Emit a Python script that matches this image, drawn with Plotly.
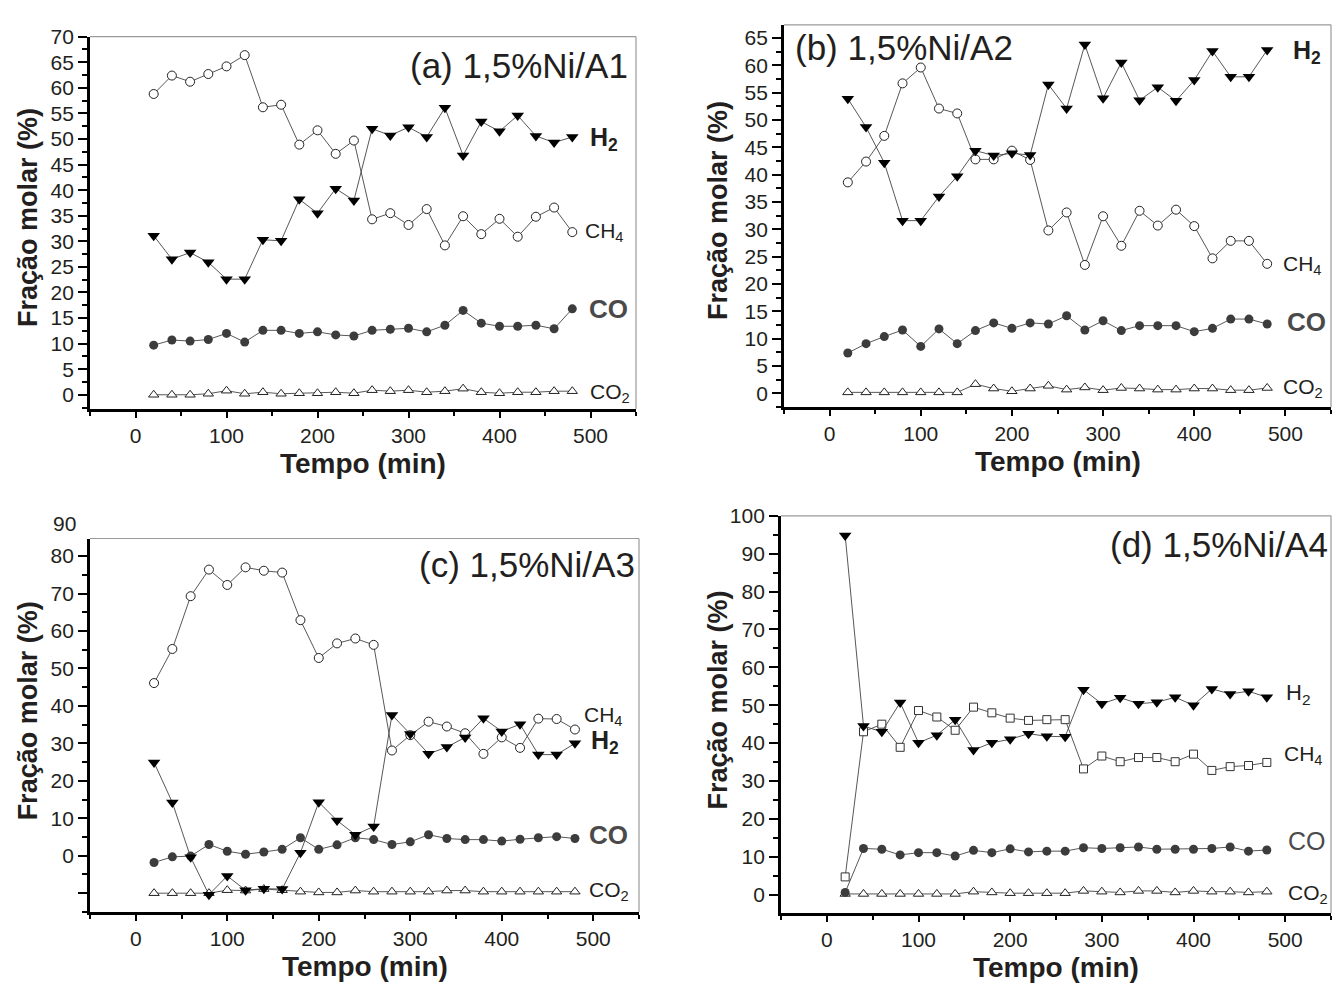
import plotly.graph_objects as go

# ---------------- data ----------------
tempo = [20, 40, 60, 80, 100, 120, 140, 160, 180, 200, 220, 240,
         260, 280, 300, 320, 340, 360, 380, 400, 420, 440, 460, 480]

# (a) 1,5%Ni/A1
a_h2 = [31.1, 26.5, 27.8, 25.9, 22.6, 22.6, 30.3, 30.1, 38.2, 35.5, 40.3, 38.0,
        52.0, 50.7, 52.3, 50.4, 56.1, 46.8, 53.4, 51.5, 54.6, 50.6, 49.3, 50.4]
a_ch4 = [58.8, 62.4, 61.2, 62.7, 64.2, 66.4, 56.2, 56.7, 48.9, 51.7, 47.1, 49.7,
         34.3, 35.5, 33.2, 36.3, 29.2, 34.9, 31.4, 34.4, 30.9, 34.8, 36.6, 31.8]
a_co = [9.7, 10.7, 10.5, 10.8, 12.0, 10.3, 12.6, 12.6, 12.0, 12.3, 11.7, 11.5,
        12.6, 12.8, 13.0, 12.3, 13.6, 16.5, 14.0, 13.4, 13.4, 13.6, 12.9, 16.8]
a_co2 = [0.0, 0.0, 0.0, 0.2, 0.8, 0.2, 0.5, 0.2, 0.3, 0.3, 0.5, 0.3,
         0.9, 0.7, 0.9, 0.5, 0.7, 1.2, 0.5, 0.3, 0.5, 0.5, 0.7, 0.7]

# (b) 1,5%Ni/A2
b_h2 = [53.9, 48.7, 42.2, 31.6, 31.6, 36.0, 39.7, 44.4, 43.5, 43.9, 43.6, 56.5,
        52.1, 63.8, 54.0, 60.5, 53.6, 56.0, 53.5, 57.3, 62.6, 57.9, 57.9, 62.8]
b_ch4 = [38.6, 42.4, 47.1, 56.7, 59.6, 52.1, 51.2, 42.8, 42.8, 44.4, 42.7, 29.8,
         33.1, 23.5, 32.4, 27.0, 33.4, 30.7, 33.6, 30.6, 24.7, 27.9, 27.9, 23.7]
b_co = [7.4, 9.1, 10.4, 11.6, 8.6, 11.8, 9.1, 11.5, 12.9, 11.9, 12.9, 12.7,
        14.2, 11.6, 13.3, 11.5, 12.4, 12.4, 12.4, 11.3, 11.9, 13.6, 13.6, 12.7]
b_co2 = [0.2, 0.2, 0.2, 0.2, 0.2, 0.2, 0.2, 1.7, 0.9, 0.4, 0.9, 1.4,
         0.7, 1.1, 0.6, 1.0, 0.9, 0.7, 0.7, 0.9, 0.9, 0.6, 0.6, 1.0]

# (c) 1,5%Ni/A3  (values as read against the printed axis labels)
c_h2 = [24.9, 14.2, -0.4, -10.4, -5.4, -9.2, -8.8, -8.9, 0.8, 14.3, 9.4, 5.6,
        7.8, 37.6, 32.5, 27.2, 29.0, 31.6, 36.7, 33.2, 35.1, 27.0, 27.0, 30.0]
c_ch4 = [46.1, 55.2, 69.3, 76.4, 72.3, 77.0, 76.1, 75.6, 62.9, 52.8, 56.7, 58.0,
         56.3, 28.1, 32.2, 35.8, 34.5, 32.7, 27.2, 31.6, 28.8, 36.6, 36.5, 33.7]
c_co = [-1.8, -0.3, -0.1, 3.0, 1.2, 0.4, 1.0, 1.7, 4.8, 1.7, 2.9, 4.8,
        4.3, 3.0, 3.7, 5.6, 4.6, 4.3, 4.3, 3.9, 4.4, 4.8, 5.1, 4.6]
c_co2 = [-10.0, -10.0, -10.0, -10.0, -9.2, -9.3, -8.9, -9.2, -9.6, -9.8, -9.8, -9.3,
         -9.6, -9.6, -9.6, -9.6, -9.3, -9.3, -9.6, -9.6, -9.6, -9.6, -9.6, -9.6]

# (d) 1,5%Ni/A4
d_h2 = [94.8, 44.5, 43.0, 50.7, 40.1, 42.1, 46.2, 38.2, 40.1, 41.0, 42.5, 41.8,
        41.7, 54.1, 50.4, 52.0, 50.4, 50.8, 52.1, 50.0, 54.3, 53.0, 53.7, 52.1]
d_ch4 = [4.7, 43.0, 45.0, 38.9, 48.6, 46.9, 43.4, 49.5, 48.0, 46.6, 46.0, 46.2,
         46.2, 33.2, 36.6, 35.1, 36.2, 36.2, 35.1, 37.1, 32.8, 33.8, 34.1, 34.9]
d_co = [0.6, 12.2, 12.0, 10.5, 11.1, 11.1, 10.2, 11.7, 11.1, 12.1, 11.3, 11.5,
        11.5, 12.4, 12.2, 12.4, 12.6, 12.0, 12.0, 12.0, 12.2, 12.6, 11.5, 11.8]
d_co2 = [0.2, 0.2, 0.2, 0.2, 0.2, 0.2, 0.2, 0.8, 0.6, 0.4, 0.4, 0.4,
         0.4, 1.0, 0.8, 0.6, 1.0, 1.0, 0.6, 1.0, 0.8, 0.8, 0.6, 0.8]

titles = ["(a) 1,5%Ni/A1", "(b) 1,5%Ni/A2", "(c) 1,5%Ni/A3", "(d) 1,5%Ni/A4"]
x_ticks = [0, 100, 200, 300, 400, 500]
c_tickvals = [-10, 0, 10, 20, 30, 40, 50, 60, 70, 80]
c_ticktext = ["", "0", "10", "20", "30", "40", "50", "60", "70", "80"]

# ---------------- layout helpers ----------------
W, H = 1334, 985
FONT = "Liberation Sans, Arial, sans-serif"


def xd(l, r):
    return [l / W, r / W]


def yd(t, b):
    return [1 - b / H, 1 - t / H]


# pixel boxes of the four plot areas: left, right, top, bottom
boxes = [(90, 636, 25, 402), (784, 1331, 13, 400),
         (90, 639, 533, 911), (781, 1331, 510, 912)]
yranges = [[-2.8, 70], [-2.5, 67.4], [-15.0, 84.7], [-4.8, 100]]

fig = go.Figure()

LINE = dict(color="#444444", width=0.9)
m_h2 = dict(symbol="triangle-down", size=11, color="black", line=dict(width=0))
m_ch4 = dict(symbol="circle", size=9, color="white", line=dict(color="#222222", width=1))
m_ch4_sq = dict(symbol="square", size=8, color="white", line=dict(color="#333333", width=1))
m_co = dict(symbol="circle", size=9, color="#3c3c3c", line=dict(width=0))
m_co2 = dict(symbol="triangle-up", size=9, color="white", line=dict(color="#222222", width=1))

panels = [
    (a_h2, a_ch4, a_co, a_co2, m_ch4),
    (b_h2, b_ch4, b_co, b_co2, m_ch4),
    (c_h2, c_ch4, c_co, c_co2, m_ch4),
    (d_h2, d_ch4, d_co, d_co2, m_ch4_sq),
]

for i, (h2, ch4, co, co2, mch4) in enumerate(panels):
    xa = "x" if i == 0 else f"x{i+1}"
    ya = "y" if i == 0 else f"y{i+1}"
    for ys, mk in [(co2, m_co2), (co, m_co), (ch4, mch4), (h2, m_h2)]:
        fig.add_trace(go.Scatter(x=tempo, y=ys, mode="lines+markers",
                                 line=LINE, marker=mk, xaxis=xa, yaxis=ya,
                                 showlegend=False, hoverinfo="skip"))

axis_common = dict(showgrid=False, zeroline=False, showline=True, linecolor="black",
                   linewidth=2.8, ticks="outside", tickcolor="black", tickwidth=1.5,
                   tickfont=dict(family=FONT, size=21, color="#231f20"))

for i, (l, r, t, b) in enumerate(boxes):
    sfx = "" if i == 0 else str(i + 1)
    xaxis = dict(axis_common, domain=xd(l, r), range=[-50, 550], anchor="y" + sfx,
                 tickmode="array", tickvals=x_ticks, ticklen=6,
                 minor=dict(ticks="outside", ticklen=4, tickcolor="black", tickwidth=1.5,
                            dtick=50, tick0=0, showgrid=False))
    yaxis = dict(axis_common, domain=yd(t, b), range=yranges[i], anchor="x" + sfx,
                 ticklen=9)
    if i in (0, 1):
        yaxis.update(tickmode="linear", tick0=0, dtick=5,
                     minor=dict(ticks="outside", ticklen=5, tickcolor="black",
                                tickwidth=1.5, dtick=2.5, tick0=0, showgrid=False))
    elif i == 2:
        yaxis.update(tickmode="array", tickvals=c_tickvals, ticktext=c_ticktext,
                     minor=dict(ticks="outside", ticklen=5, tickcolor="black",
                                tickwidth=1.5, tickmode="linear", dtick=5, tick0=0,
                                showgrid=False))
    else:
        yaxis.update(tickmode="linear", tick0=0, dtick=10,
                     minor=dict(ticks="outside", ticklen=5, tickcolor="black",
                                tickwidth=1.5, dtick=5, tick0=0, showgrid=False))
    fig.update_layout({"xaxis" + sfx: xaxis, "yaxis" + sfx: yaxis})

    # thin grey frame on top and right
    xr = "x" + sfx + " domain"
    yr = "y" + sfx + " domain"
    fig.add_shape(type="line", xref=xr, yref=yr, x0=0, x1=1, y0=1, y1=1,
                  line=dict(color="#9a9a9a", width=1.2))
    fig.add_shape(type="line", xref=xr, yref=yr, x0=1, x1=1, y0=0, y1=1,
                  line=dict(color="#9a9a9a", width=1.2))

    # axis titles
    fig.add_annotation(text="<b>Tempo (min)</b>", xref="paper", yref="paper",
                       x=(l + r) / 2 / W, y=1 - (b + 55) / H, showarrow=False,
                       xanchor="center", yanchor="middle",
                       font=dict(family=FONT, size=28, color="#231f20"))
    ytitle_x = 28 if i in (0, 2) else 718
    fig.add_annotation(text="<b>Fração molar (%)</b>", xref="paper", yref="paper",
                       x=ytitle_x / W, y=1 - ((t + b) / 2 + (-5 if i < 2 else -14)) / H,
                       textangle=-90, showarrow=False, xanchor="center", yanchor="middle",
                       font=dict(family=FONT, size=27, color="#231f20"))

# extra "90" label printed above panel (c)
fig.add_annotation(text="90", xref="paper", yref="paper", x=(90 - 12) / W, y=1 - 518 / H,
                   showarrow=False, xanchor="right", yanchor="middle",
                   font=dict(family=FONT, size=21, color="#231f20"))

# panel titles
tfont = dict(family=FONT, size=35, color="#231f20")
fig.add_annotation(text=titles[0], xref="x", yref="y", x=543, y=64.3, showarrow=False,
                   xanchor="right", yanchor="middle", font=tfont)
fig.add_annotation(text=titles[1], xref="x2", yref="y2", x=-40, y=63.2, showarrow=False,
                   xanchor="left", yanchor="middle", font=tfont)
fig.add_annotation(text=titles[2], xref="x3", yref="y3", x=548, y=77.8, showarrow=False,
                   xanchor="right", yanchor="middle", font=tfont)
fig.add_annotation(text=titles[3], xref="x4", yref="y4", x=549, y=92.3, showarrow=False,
                   xanchor="right", yanchor="middle", font=tfont)

# series labels
def lab(text, xref, yref, x, y, size, color="#231f20"):
    fig.add_annotation(text=text, xref=xref, yref=yref, x=x, y=y, showarrow=False,
                       xanchor="left", yanchor="middle",
                       font=dict(family=FONT, size=size, color=color))

GREY = "#4a4a4a"
lab("<b>H<sub>2</sub></b>", "x", "y", 497, 50.0, 25)
lab("CH<sub>4</sub>", "x", "y", 492, 31.9, 21)
lab("<b>CO</b>", "x", "y", 496, 16.8, 26, GREY)
lab("CO<sub>2</sub>", "x", "y", 497, 0.3, 21)

lab("<b>H<sub>2</sub></b>", "x2", "y2", 506, 62.5, 25)
lab("CH<sub>4</sub>", "x2", "y2", 495, 23.5, 21)
lab("<b>CO</b>", "x2", "y2", 499, 13.0, 26, GREY)
lab("CO<sub>2</sub>", "x2", "y2", 495, 1.0, 21)

lab("CH<sub>4</sub>", "x3", "y3", 488, 37.3, 21)
lab("<b>H<sub>2</sub></b>", "x3", "y3", 495, 30.4, 25)
lab("<b>CO</b>", "x3", "y3", 493, 5.4, 26, GREY)
lab("CO<sub>2</sub>", "x3", "y3", 493, -9.4, 21)

lab("H<sub>2</sub>", "x4", "y4", 499, 53.0, 22)
lab("CH<sub>4</sub>", "x4", "y4", 497, 36.9, 21)
lab("CO", "x4", "y4", 501, 14.1, 25, GREY)
lab("CO<sub>2</sub>", "x4", "y4", 501, 0.2, 21)

fig.update_layout(width=W, height=H, margin=dict(l=0, r=0, t=0, b=0),
                  paper_bgcolor="white", plot_bgcolor="white", showlegend=False,
                  font=dict(family=FONT, color="#231f20"))

fig.write_html("out.html")
